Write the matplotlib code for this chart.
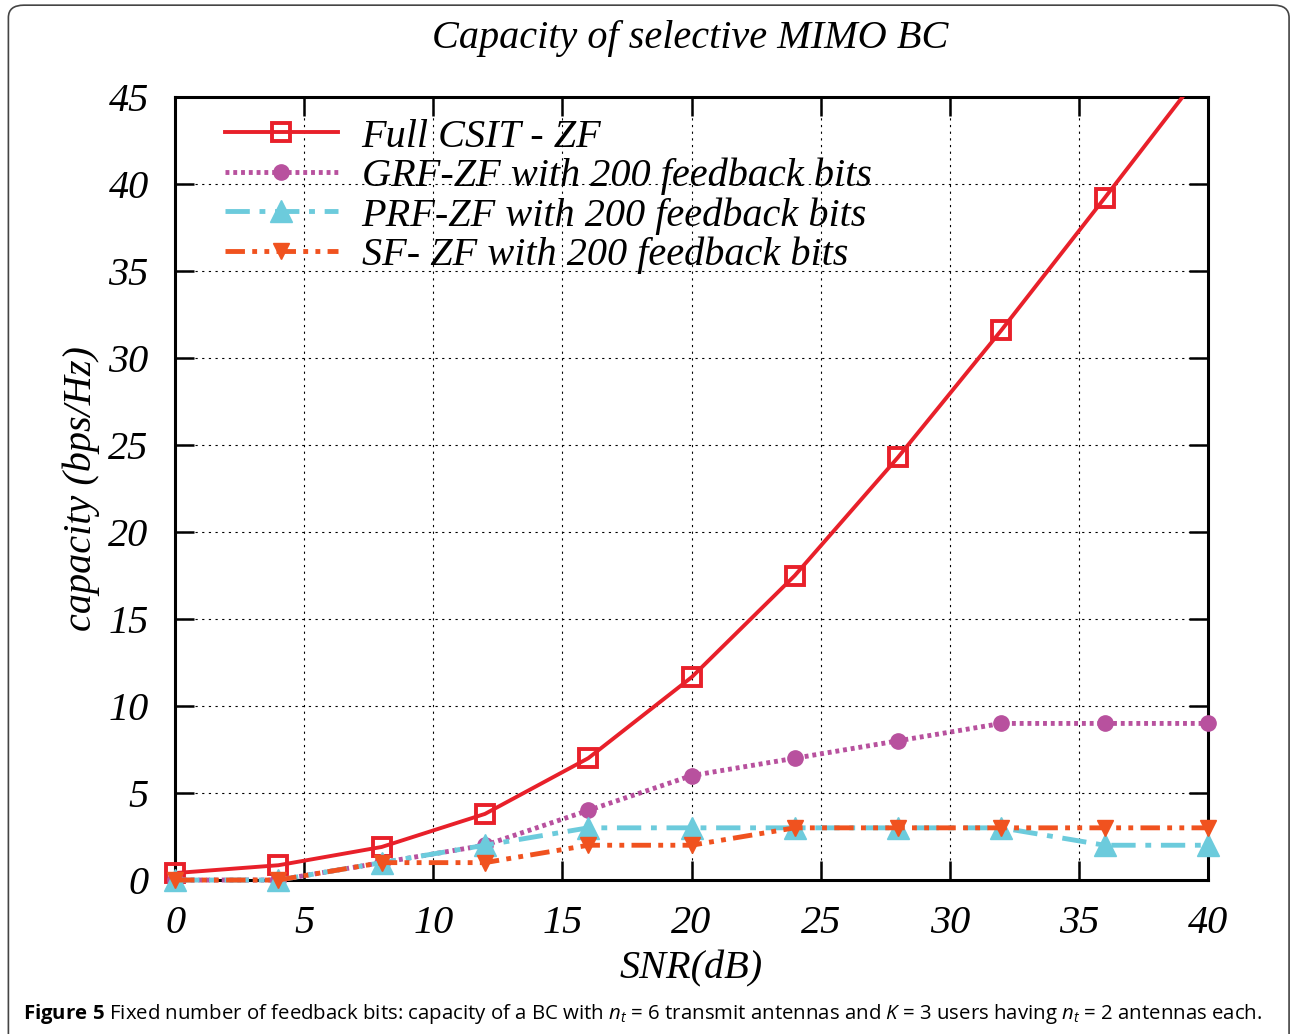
import matplotlib
matplotlib.use('Agg')
import matplotlib.pyplot as plt
from matplotlib.patches import FancyBboxPatch
import numpy as np

plt.rcParams['font.family'] = ['Liberation Serif', 'DejaVu Serif']
plt.rcParams['mathtext.fontset'] = 'custom'
plt.rcParams['mathtext.rm'] = 'Open Sans'
plt.rcParams['mathtext.it'] = 'Open Sans:italic'
plt.rcParams['mathtext.bf'] = 'Open Sans:bold'

# 数据
snr = [0, 4, 8, 12, 16, 20, 24, 28, 32, 36, 40]
full_csit = [0.4, 0.85, 1.9, 3.8, 7.0, 11.65, 17.5, 24.3, 31.6, 39.2, 46.9]
grf = [0, 0, 1, 2, 4, 6, 7, 8, 9, 9, 9]
prf = [0, 0, 1, 2, 3, 3, 3, 3, 3, 2, 2]
sf = [0, 0, 1, 1, 2, 2, 3, 3, 3, 3, 3]

labels = ['Full CSIT - ZF', 'GRF-ZF with 200 feedback bits',
          'PRF-ZF with 200 feedback bits', 'SF- ZF with 200 feedback bits']
xticks = [0, 5, 10, 15, 20, 25, 30, 35, 40]
yticks = [0, 5, 10, 15, 20, 25, 30, 35, 40, 45]

red = '#e8202a'
purple = '#b8519e'
cyan = '#6ccbdc'
orange = '#f0521f'

fig = plt.figure(figsize=(12.91, 10.34), dpi=100)
ax = fig.add_axes([0.1356, 0.1489, 0.8001, 0.7573])

# 外框（下沿超出图片）
box = FancyBboxPatch((0.0065, -0.02), 0.992, 1.015, boxstyle='round,pad=0,rounding_size=0.012',
                     transform=fig.transFigure, fill=False, edgecolor='#444444', lw=1.2)
fig.patches.append(box)

ax.grid(True, color='black', linestyle=(0, (2, 4)), linewidth=0.8)
ax.set_axisbelow(True)

# Full CSIT
ax.plot(snr, full_csit, color=red, lw=2.8, zorder=3)
inside = np.ma.masked_greater(np.array(full_csit), 45)
ax.plot(snr, inside, linestyle='none', marker='s', markersize=13, markerfacecolor='none',
        markeredgecolor=red, markeredgewidth=2.8, clip_on=False, zorder=3)
h1, = ax.plot([], [], color=red, lw=2.8, marker='s', markersize=13,
              markerfacecolor='none', markeredgecolor=red, markeredgewidth=2.8)

h2, = ax.plot(snr, grf, color=purple, lw=3.5, linestyle=(0, (0.8, 0.8)), marker='o',
              markersize=11, markeredgecolor=purple, clip_on=False, zorder=4)
h3, = ax.plot(snr, prf, color=cyan, lw=3.5, linestyle=(0, (5, 2, 1.2, 2)), marker='^',
              markersize=16, markeredgecolor=cyan, clip_on=False, zorder=5)
h4, = ax.plot(snr, sf, color=orange, lw=3.5, linestyle=(0, (4, 1.5, 1, 1.5, 1, 1.5)),
              marker='v', markersize=11, markeredgecolor=orange, clip_on=False, zorder=6)

ax.set_xlim(0, 40)
ax.set_ylim(0, 45)
ax.set_xticks(xticks)
ax.set_yticks(yticks)
ax.set_xticklabels([str(t) for t in xticks], fontsize=29, style='italic')
ax.set_yticklabels([str(t) for t in yticks], fontsize=29, style='italic')
ax.tick_params(direction='in', length=14, width=1.8, top=True, right=True, pad=19)
ax.tick_params(axis='x', pad=18)
for s in ax.spines.values():
    s.set_linewidth(2.2)

ax.set_xlabel('SNR(dB)', fontsize=29, style='italic', labelpad=6)
ax.set_ylabel('capacity (bps/Hz)', fontsize=29, style='italic', labelpad=6)
fig.text(0.535, 0.963, 'Capacity of selective MIMO BC', fontsize=29, style='italic',
         ha='center', va='center')

leg = ax.legend([h1, h2, h3, h4], labels, loc='upper left', bbox_to_anchor=(0.013, 1.019),
                frameon=False, handlelength=2.8, handletextpad=0.6, labelspacing=0.05,
                prop={'family': 'Liberation Serif', 'style': 'italic', 'size': 29})

fig.text(0.018, 0.019, r'$\mathbf{Figure\ 5}$ Fixed number of feedback bits: capacity of a BC with '
         r'$n_t$ = 6 transmit antennas and $K$ = 3 users having $n_t$ = 2 antennas each.',
         fontsize=14.7, family='Open Sans', ha='left', va='center')

fig.savefig('out.png', dpi=100)
